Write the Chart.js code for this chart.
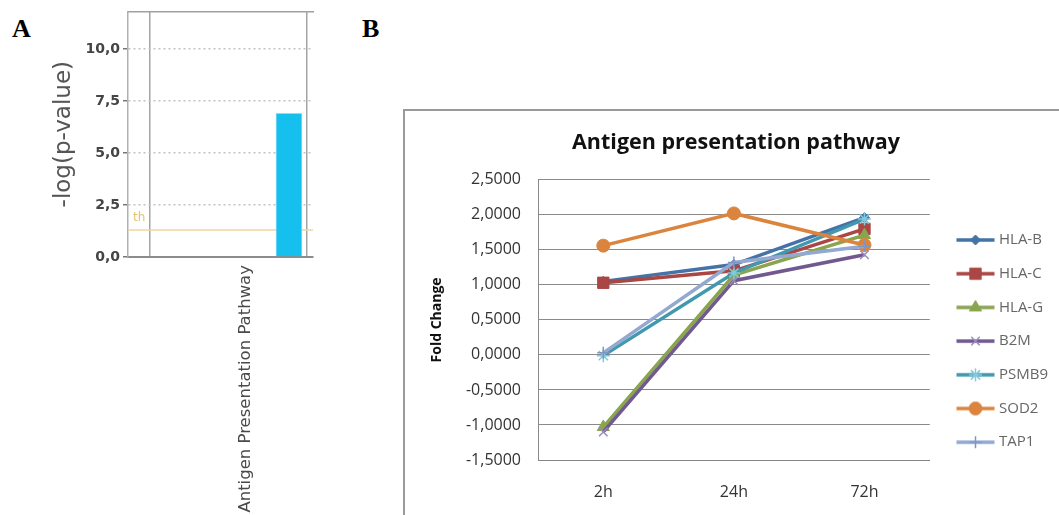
<!DOCTYPE html>
<html>
<head>
<meta charset="utf-8">
<script src="https://cdn.jsdelivr.net/npm/chart.js@4/dist/chart.umd.min.js"></script>
<style>
  html, body { margin: 0; padding: 0; background: #fff; }
  body { width: 1059px; height: 515px; position: relative; overflow: hidden; }
  .letter { position: absolute; font-family: "Liberation Serif", "DejaVu Serif", serif; font-weight: bold; font-size: 26px; line-height: 1; color: #000; }
  #chartA { position: absolute; left: 0; top: 0; filter: blur(0.6px); }
  #frameB { position: absolute; left: 403px; top: 109px; width: 720px; height: 460px; border: 2px solid #9a9a9a; box-sizing: border-box; }
  #chartB { position: absolute; left: 414px; top: 110px; }
</style>
</head>
<body>
<div class="letter" style="left:12px;top:16px">A</div>
<div class="letter" style="left:362px;top:16px">B</div>
<canvas id="chartA" width="330" height="515"></canvas>
<div id="frameB"></div>
<canvas id="chartB" width="644" height="405"></canvas>
<script>
// ---- Panel A: pathway enrichment ----
const pathways = ['Antigen Presentation Pathway'];
const negLogP = [6.9];
const thresholdValue = 1.3;
const pTicks = [0, 2.5, 5, 7.5, 10];

// ---- Panel B: fold change over time ----
const timepoints = ['2h', '24h', '72h'];
const hlaB  = [1.05, 1.29, 1.96];
const hlaC  = [1.03, 1.20, 1.80];
const hlaG  = [-1.03, 1.14, 1.71];
const b2m   = [-1.10, 1.06, 1.43];
const psmb9 = [-0.01, 1.17, 1.94];
const sod2  = [1.56, 2.02, 1.57];
const tap1  = [0.03, 1.32, 1.55];
const geneNames = ['HLA-B', 'HLA-C', 'HLA-G', 'B2M', 'PSMB9', 'SOD2', 'TAP1'];
const geneValues = [hlaB, hlaC, hlaG, b2m, psmb9, sod2, tap1];
const foldTickStep = 0.5;

// visual style per gene (line colour, marker shape/size, marker colours)
const geneStyles = [
  { color: '#4572A7', marker: 'rectRot',  radius: 5,   fill: '#4572A7', stroke: '#4572A7', bw: 1 },
  { color: '#AA4643', marker: 'rect',     radius: 8,   fill: '#AA4643', stroke: '#AA4643', bw: 1 },
  { color: '#89A54E', marker: 'triangle', radius: 7,   fill: '#89A54E', stroke: '#89A54E', bw: 1 },
  { color: '#71588F', marker: 'crossRot', radius: 6,   fill: '#9c8bbb', stroke: '#9c8bbb', bw: 1.5 },
  { color: '#4198AF', marker: 'star',     radius: 6.5, fill: '#82c8de', stroke: '#82c8de', bw: 1.5 },
  { color: '#DB843D', marker: 'circle',   radius: 6.5, fill: '#DB843D', stroke: '#DB843D', bw: 1 },
  { color: '#93A9CF', marker: 'cross',    radius: 6,   fill: '#7d96c6', stroke: '#7d96c6', bw: 1.5 }
];

const commaNum = (v, d) => v.toFixed(d).replace('.', ',');

// ================= Panel A =================
const aXMin = -0.87, aXMax = 0.13;
const aLeftRule = -0.751, aRightRule = 0.0976, aLabelPos = -0.232;

const thresholdTag = {
  id: 'thresholdTag',
  afterDatasetsDraw(chart) {
    const { ctx, chartArea, scales } = chart;
    const y = scales.y.getPixelForValue(thresholdValue);
    ctx.save();
    ctx.font = '12px "DejaVu Sans"';
    ctx.fillStyle = 'rgba(222,184,80,0.85)';
    ctx.textBaseline = 'alphabetic';
    ctx.fillText('th', chartArea.left + 5, y - 9);
    ctx.restore();
  }
};

new Chart(document.getElementById('chartA'), {
  data: {
    datasets: [
      {
        type: 'bar',
        data: negLogP.map((v, i) => ({ x: i, y: v })),
        backgroundColor: '#16c0ee',
        borderColor: '#8edcf5',
        borderWidth: 1,
        barThickness: 26,
        order: 1
      },
      {
        type: 'line',
        data: [{ x: aXMin, y: thresholdValue }, { x: aXMax, y: thresholdValue }],
        borderColor: '#efd6a2',
        borderWidth: 1.5,
        pointRadius: 0,
        order: 2
      }
    ]
  },
  options: {
    responsive: false,
    animation: false,
    layout: { padding: { top: 10, right: 17, left: 0, bottom: 0 } },
    plugins: { legend: { display: false }, tooltip: { enabled: false } },
    scales: {
      x: {
        type: 'linear', min: aXMin, max: aXMax, offset: false,
        afterBuildTicks: s => { s.ticks = [{ value: aLeftRule }, { value: aLabelPos }, { value: aRightRule }]; },
        afterFit: s => { s.height = 258; s.paddingLeft = 0; s.paddingRight = 0; },
        grid: {
          drawTicks: false, lineWidth: 1.5, offset: false,
          color: c => (c.tick && c.tick.value === aLabelPos) ? 'rgba(0,0,0,0)' : '#a4a4a4'
        },
        border: { display: true, color: '#8c8c8c', width: 2 },
        ticks: {
          autoSkip: false, minRotation: 90, maxRotation: 90, padding: 8,
          font: { family: 'DejaVu Sans', size: 16.5 }, color: '#4a4a4a',
          callback: v => (v === aLabelPos ? pathways[0] : '')
        }
      },
      x2: {
        type: 'linear', position: 'top', min: 0, max: 1, offset: false,
        afterFit: s => { s.height = 0; s.paddingLeft = 0; s.paddingRight = 0; },
        grid: { display: false },
        ticks: { display: false },
        border: { display: true, color: '#a0a0a0', width: 1.5 }
      },
      y: {
        min: 0, max: 11.8,
        afterBuildTicks: s => { s.ticks = pTicks.map(v => ({ value: v })); },
        afterFit: s => { s.width = 128; },
        grid: {
          color: c => (c.tick && c.tick.value === 0) ? 'rgba(0,0,0,0)' : '#c2c2c2',
          lineWidth: 1.5, drawTicks: true, tickLength: 5, tickColor: '#777', tickWidth: 1.5
        },
        border: { display: true, color: '#b0b0b0', width: 1.5, dash: [2, 3] },
        ticks: {
          padding: 3, font: { family: 'DejaVu Sans', size: 14, weight: 'bold' }, color: '#454545',
          callback: v => commaNum(v, 1)
        },
        title: {
          display: true, text: '-log(p-value)',
          font: { family: 'DejaVu Sans', size: 23 }, color: '#555',
          padding: { top: 50, bottom: 0 }
        }
      }
    }
  },
  plugins: [thresholdTag]
});

// ================= Panel B =================
function legendSwatch(style) {
  const c = document.createElement('canvas');
  c.width = 52; c.height = 20;
  const g = c.getContext('2d');
  g.strokeStyle = style.color;
  g.lineWidth = 3.5;
  g.beginPath();
  g.moveTo(12.5, 10);
  g.lineTo(50.5, 10);
  g.stroke();
  g.fillStyle = style.fill;
  g.strokeStyle = style.stroke;
  g.lineWidth = style.bw;
  Chart.helpers.drawPoint(g, { pointStyle: style.marker, radius: style.radius, rotation: 0, borderWidth: style.bw }, 31.5, 10);
  return c;
}

const datasetsB = geneNames.map((name, i) => {
  const s = geneStyles[i];
  return {
    label: name,
    data: geneValues[i],
    borderColor: s.color,
    backgroundColor: s.color,
    borderWidth: 3.5,
    tension: 0,
    pointStyle: s.marker,
    pointRadius: s.radius,
    pointBackgroundColor: s.fill,
    pointBorderColor: s.stroke,
    pointBorderWidth: s.bw,
    order: -i
  };
});

new Chart(document.getElementById('chartB'), {
  type: 'line',
  data: { labels: timepoints, datasets: datasetsB },
  options: {
    responsive: false,
    animation: false,
    layout: { padding: 0 },
    plugins: {
      tooltip: { enabled: false },
      title: {
        display: true, text: 'Antigen presentation pathway',
        font: { family: 'Open Sans', weight: 'bold', size: 21.5 }, color: '#111',
        padding: { top: 20, bottom: 24 }
      },
      legend: {
        position: 'right', align: 'start',
        title: { display: true, text: '', font: { size: 12 }, padding: { top: 89.4, bottom: 0 } },
        labels: {
          usePointStyle: true, pointStyleWidth: 43, padding: 18.7,
          font: { family: 'Open Sans', size: 15 }, color: '#262626',
          generateLabels: chart => chart.data.datasets.map((ds, i) => ({
            text: ds.label,
            pointStyle: legendSwatch(geneStyles[i]),
            fillStyle: ds.borderColor,
            strokeStyle: ds.borderColor,
            lineWidth: 0,
            hidden: false,
            datasetIndex: i
          }))
        }
      }
    },
    scales: {
      x: {
        offset: true,
        afterFit: s => { s.height = 55; },
        grid: { display: false, offset: true },
        border: { display: true, color: '#868686', width: 1 },
        ticks: { padding: 15, font: { family: 'Open Sans', size: 16 }, color: '#333' }
      },
      y: {
        min: -1.5, max: 2.5,
        afterFit: s => { s.width = 124; },
        grid: { color: '#8a8a8a', lineWidth: 1, drawTicks: false },
        border: { display: true, color: '#8a8a8a', width: 1 },
        ticks: {
          stepSize: foldTickStep, padding: 17,
          font: { family: 'Open Sans', size: 16 }, color: '#333',
          callback: v => commaNum(v, 4)
        },
        title: {
          display: true, text: 'Fold Change',
          font: { family: 'Open Sans', weight: 'bold', size: 14 }, color: '#111',
          padding: { top: 15, bottom: 0 }
        }
      }
    }
  }
});
</script>
</body>
</html>
